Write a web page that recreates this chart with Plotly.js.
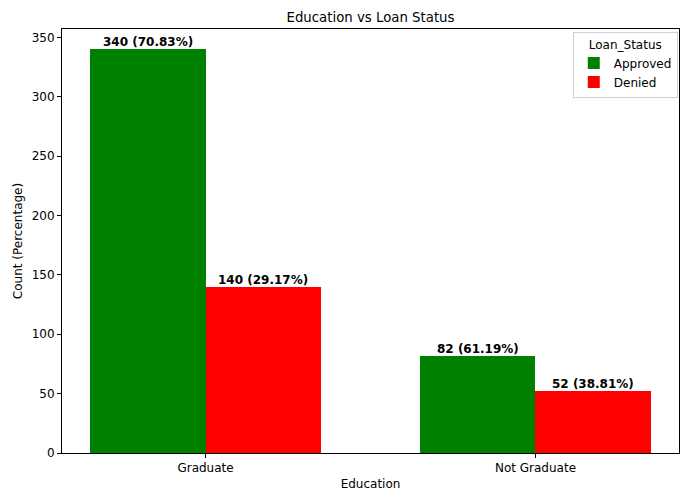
<!DOCTYPE html>
<html>
<head>
<meta charset="utf-8">
<script src="https://cdn.plot.ly/plotly-3.0.1.min.js"></script>
<style>html,body{margin:0;padding:0;background:#fff;}#chart{width:683px;height:499px;}</style>
</head>
<body>
<div id="chart"></div>
<script>
const categories = ["Graduate", "Not Graduate"];
const approved = [340, 82];
const denied = [140, 52];
const seriesNames = ["Approved", "Denied"];

const xpos = categories.map((c, i) => i);
const totals = approved.map((a, i) => a + denied[i]);
const font = "DejaVu Sans, Liberation Sans, sans-serif";

const traces = [
  {type: "bar", name: seriesNames[0], x: xpos, y: approved, width: 0.35, offset: -0.35,
   marker: {color: "#008000", line: {width: 0}}, hoverinfo: "none"},
  {type: "bar", name: seriesNames[1], x: xpos, y: denied, width: 0.35, offset: 0,
   marker: {color: "#ff0000", line: {width: 0}}, hoverinfo: "none"}
];

const annotations = [];
[approved, denied].forEach((vals, s) => {
  vals.forEach((v, i) => {
    const pct = (v / totals[i] * 100).toFixed(2);
    annotations.push({
      x: i + (s === 0 ? -0.175 : 0.175), y: v, xref: "x", yref: "y",
      text: v + " (" + pct + "%)", showarrow: false, yanchor: "bottom", yshift: -2,
      font: {family: font, size: 12, color: "#000", weight: "bold"}
    });
  });
});

const layout = {
  width: 683, height: 499,
  margin: {l: 62, r: 4, t: 29, b: 46},
  paper_bgcolor: "#fff", plot_bgcolor: "#fff",
  barmode: "overlay",
  bargap: 0,
  title: {text: "Education vs Loan Status", font: {family: font, size: 13.3, color: "#000"}, xref: "paper", x: 0.5, xanchor: "center", y: 1 - 17/499, yanchor: "middle"},
  xaxis: {
    range: [-0.435, 1.435], tickvals: xpos, ticktext: categories,
    ticks: "outside", ticklen: 4, tickcolor: "#000", showgrid: false, zeroline: false,
    showline: true, linecolor: "#000", linewidth: 1, mirror: true,
    tickfont: {family: font, size: 12, color: "#000"},
    title: {text: "Education", font: {family: font, size: 12, color: "#000"}, standoff: 5}
  },
  yaxis: {
    range: [0, 357], tickvals: [0, 50, 100, 150, 200, 250, 300, 350],
    ticks: "outside", ticklen: 4, tickcolor: "#000", showgrid: false, zeroline: false,
    showline: true, linecolor: "#000", linewidth: 1, mirror: true,
    tickfont: {family: font, size: 12, color: "#000"},
    title: {text: "Count (Percentage)", font: {family: font, size: 12, color: "#000"}, standoff: 6}
  },
  showlegend: true,
  legend: {
    x: 0.998, xanchor: "right", y: 0.993, yanchor: "top",
    bgcolor: "rgba(255,255,255,0.8)", bordercolor: "#d0d0d0", borderwidth: 1,
    font: {family: font, size: 12, color: "#000"},
    title: {text: "Loan_Status", side: "top center", font: {family: font, size: 12, color: "#000"}},
    traceorder: "normal"
  },
  annotations: annotations
};

Plotly.newPlot("chart", traces, layout, {displayModeBar: false, staticPlot: true});
</script>
</body>
</html>
